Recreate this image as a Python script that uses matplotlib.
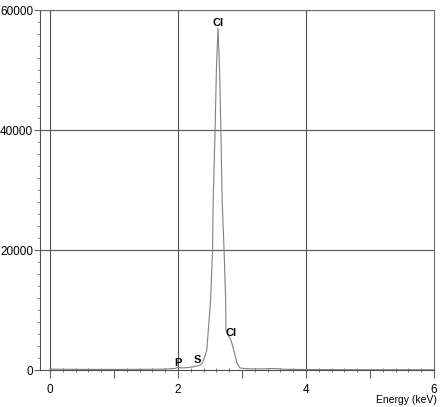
import numpy as np
import matplotlib.pyplot as plt
from matplotlib.ticker import MultipleLocator, FuncFormatter

plt.rcParams['font.family'] = ['Liberation Sans', 'DejaVu Sans']

# EDS spectrum (energy in keV, counts)
energy = [0.0, 0.3, 0.6, 1.0, 1.4, 1.8, 1.95, 2.0, 2.05, 2.15, 2.25, 2.31, 2.36, 2.39,
          2.45, 2.51, 2.54, 2.55, 2.58, 2.60, 2.625, 2.65, 2.67, 2.69, 2.72, 2.745,
          2.75, 2.78, 2.82, 2.86, 2.92, 2.97, 3.1, 3.3, 3.5, 3.7, 4.0, 4.5, 5.0, 6.0]
counts = [150, 120, 100, 100, 110, 150, 250, 450, 350, 400, 550, 700, 900, 1330,
          3300, 11700, 20000, 28300, 40000, 50000, 57000, 50000, 40000, 28300, 20000, 11700,
          6700, 5800, 5200, 3800, 1170, 330, 200, 180, 250, 120, 80, 60, 40, 30]

peak_names = ['Cl', 'Cl', 'P', 'S']
peak_x = [2.62, 2.83, 2.0, 2.31]
peak_y = [57000, 5400, 350, 900]

fig = plt.figure(figsize=(4.41, 4.07), dpi=100)
ax = fig.add_axes([0.0907, 0.0909, 0.8934, 0.8845])

ax.plot(energy, counts, color='#808080', linewidth=0.8)

for name, px, py in zip(peak_names, peak_x, peak_y):
    ax.text(px, py, name, ha='center', va='bottom', fontsize=8, fontweight='bold')

ax.set_xlim(-0.156, 6)
ax.set_ylim(0, 60000)

ax.xaxis.set_major_locator(MultipleLocator(1))
ax.xaxis.set_minor_locator(MultipleLocator(0.2))
ax.xaxis.set_major_formatter(FuncFormatter(lambda v, p: '%d' % v if round(v) % 2 == 0 else ''))
ax.yaxis.set_major_locator(MultipleLocator(20000))
ax.yaxis.set_minor_locator(MultipleLocator(2000))

ax.tick_params(axis='x', which='major', direction='out', length=6, width=0.8,
               color='#606060', labelsize=8.5, pad=4)
ax.tick_params(axis='x', which='minor', direction='inout', length=3, width=0.6, color='#606060')
ax.tick_params(axis='y', which='major', direction='out', length=4, width=0.8,
               color='#606060', labelsize=8.5, pad=1)
ax.tick_params(axis='y', which='minor', direction='out', length=2, width=0.6, color='#808080')

for v in [0, 2, 4]:
    ax.axvline(v, color='#505050', linewidth=0.8, zorder=0)
for v in [20000, 40000, 60000]:
    ax.axhline(v, color='#606060', linewidth=0.9, zorder=0)

ax.spines['left'].set_color('#505050')
ax.spines['bottom'].set_color('#505050')
ax.spines['top'].set_color('#707070')
ax.spines['right'].set_color('#707070')
for s in ax.spines.values():
    s.set_linewidth(0.8)

fig.text(0.99, 0.006, 'Energy (keV)', ha='right', va='bottom', fontsize=7.5)

fig.savefig('out.png', dpi=100)
